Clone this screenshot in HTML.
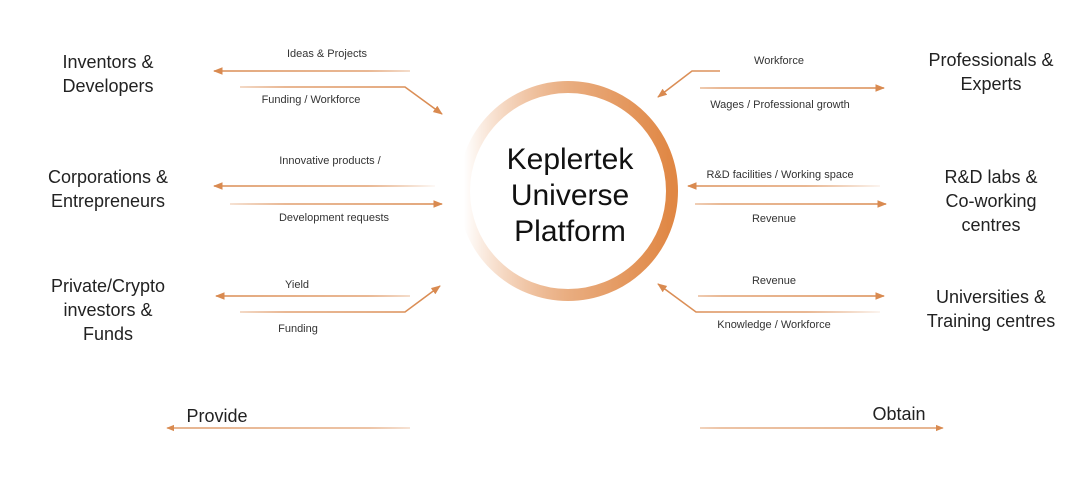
<!DOCTYPE html>
<html><head><meta charset="utf-8"><style>
body{margin:0;background:#fff;width:1080px;height:483px;overflow:hidden;font-family:"Liberation Sans",sans-serif}
</style></head><body>
<svg width="1080" height="483" viewBox="0 0 1080 483" xmlns="http://www.w3.org/2000/svg">
<defs>
<linearGradient id="ring" x1="0" y1="0" x2="1" y2="0">
<stop offset="0" stop-color="#e38c4c" stop-opacity="0"/>
<stop offset="0.5" stop-color="#e9ad80"/>
<stop offset="1" stop-color="#e08744"/>
</linearGradient>
<linearGradient id="fl" gradientUnits="userSpaceOnUse" x1="200" y1="0" x2="440" y2="0">
<stop offset="0" stop-color="#d98a50"/><stop offset="0.7" stop-color="#e2a070"/><stop offset="1" stop-color="#d98a50" stop-opacity="0"/>
</linearGradient>
<linearGradient id="fl2" gradientUnits="userSpaceOnUse" x1="200" y1="0" x2="445" y2="0">
<stop offset="0" stop-color="#d98a50" stop-opacity="0"/><stop offset="0.35" stop-color="#e2a070"/><stop offset="1" stop-color="#d98a50"/>
</linearGradient>
<linearGradient id="fr" gradientUnits="userSpaceOnUse" x1="650" y1="0" x2="890" y2="0">
<stop offset="0" stop-color="#d98a50" stop-opacity="0"/><stop offset="0.3" stop-color="#e2a070"/><stop offset="1" stop-color="#d98a50"/>
</linearGradient>
<linearGradient id="fr2" gradientUnits="userSpaceOnUse" x1="650" y1="0" x2="890" y2="0">
<stop offset="0" stop-color="#d98a50"/><stop offset="0.65" stop-color="#e2a070"/><stop offset="1" stop-color="#d98a50" stop-opacity="0"/>
</linearGradient>
<marker id="a" viewBox="0 0 10 10" refX="9" refY="5" markerWidth="6" markerHeight="6" orient="auto"><path d="M0,1 L10,5 L0,9 z" fill="#d98a50"/></marker>
</defs>
<circle cx="568" cy="191" r="104" fill="none" stroke="url(#ring)" stroke-width="12"/>
<g fill="none" stroke-width="1.6" marker-end="url(#a)">
<path d="M410,71 L214,71" stroke="url(#fl)"/>
<path d="M240,87 L405,87 L442,114" stroke="url(#fl2)"/>
<path d="M435,186 L214,186" stroke="url(#fl)"/>
<path d="M230,204 L442,204" stroke="url(#fl2)"/>
<path d="M410,296 L216,296" stroke="url(#fl)"/>
<path d="M240,312 L405,312 L440,286" stroke="url(#fl2)"/>
<path d="M720,71 L692,71 L658,97" stroke="url(#fr2)"/>
<path d="M700,88 L884,88" stroke="url(#fr)"/>
<path d="M880,186 L688,186" stroke="url(#fr2)"/>
<path d="M695,204 L886,204" stroke="url(#fr)"/>
<path d="M698,296 L884,296" stroke="url(#fr)"/>
<path d="M880,312 L696,312 L658,284" stroke="url(#fr2)"/>
</g>
<g fill="none" stroke-width="1.3" marker-end="url(#a)">
<path d="M410,428 L167,428" stroke="url(#fl)"/>
<path d="M700,428 L943,428" stroke="url(#fr)"/>
</g>
<g font-size="11" fill="#333" text-anchor="middle">
<text x="327" y="57">Ideas &amp; Projects</text>
<text x="311" y="103">Funding / Workforce</text>
<text x="330" y="164">Innovative products /</text>
<text x="334" y="221">Development requests</text>
<text x="297" y="288">Yield</text>
<text x="298" y="332">Funding</text>
<text x="779" y="64">Workforce</text>
<text x="780" y="108">Wages / Professional growth</text>
<text x="780" y="178">R&amp;D facilities / Working space</text>
<text x="774" y="222">Revenue</text>
<text x="774" y="284">Revenue</text>
<text x="774" y="328">Knowledge / Workforce</text>
</g>
<g font-size="18" fill="#222" text-anchor="middle">
<text x="108" y="68">Inventors &amp;</text><text x="108" y="92">Developers</text>
<text x="108" y="183">Corporations &amp;</text><text x="108" y="207">Entrepreneurs</text>
<text x="108" y="292">Private/Crypto</text><text x="108" y="316">investors &amp;</text><text x="108" y="340">Funds</text>
<text x="991" y="66">Professionals &amp;</text><text x="991" y="90">Experts</text>
<text x="991" y="183">R&amp;D labs &amp;</text><text x="991" y="207">Co-working</text><text x="991" y="231">centres</text>
<text x="991" y="303">Universities &amp;</text><text x="991" y="327">Training centres</text>
<text x="217" y="422">Provide</text>
<text x="899" y="420">Obtain</text>
</g>
<g font-size="30" fill="#111" text-anchor="middle">
<text x="570" y="169">Keplertek</text>
<text x="570" y="205">Universe</text>
<text x="570" y="241">Platform</text>
</g>
</svg>
</body></html>
